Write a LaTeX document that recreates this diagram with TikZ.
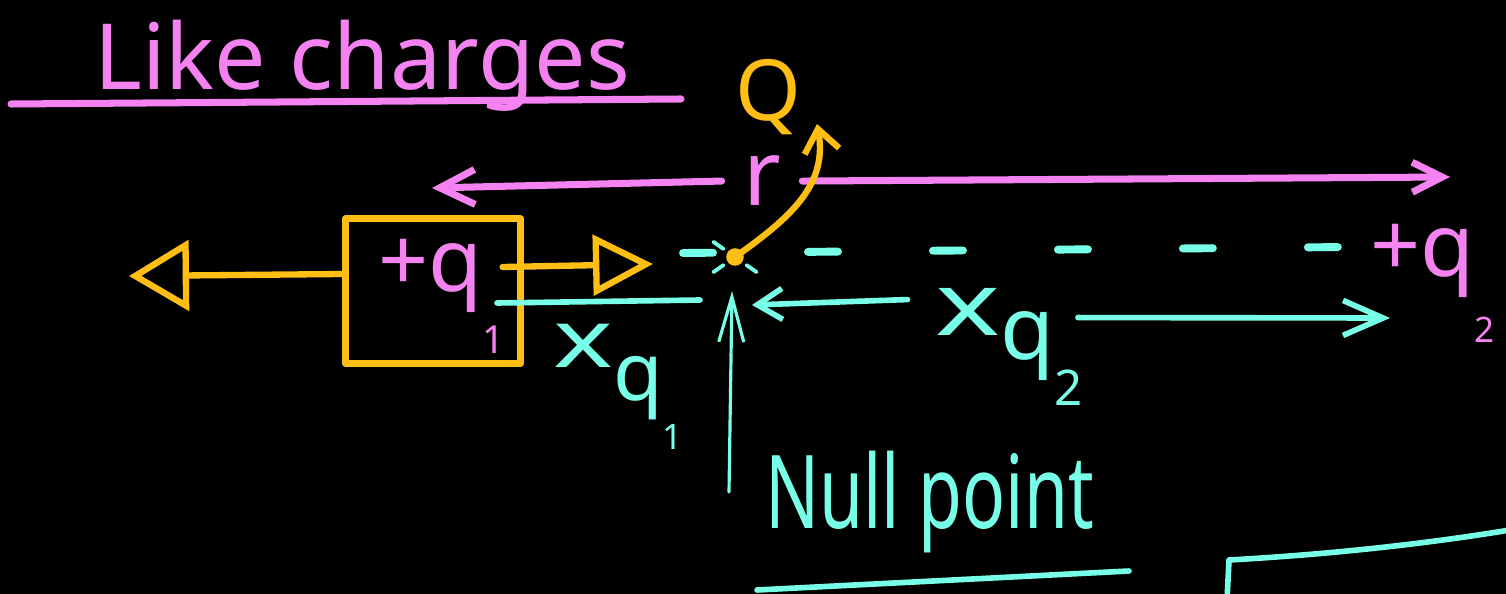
\documentclass[tikz,border=0pt]{standalone}
\usepackage{fontspec}
\setmainfont{Noto Sans}
\usetikzlibrary{arrows.meta}
\definecolor{inkpink}{RGB}{244,130,240}
\definecolor{inkorange}{RGB}{255,190,20}
\definecolor{inkcyan}{RGB}{120,255,232}
\newcommand{\inksize}[1]{\fontsize{#1pt}{#1pt}\selectfont}
\newcommand{\drop}[2]{\raisebox{-#1}{#2}}
\newcommand{\wide}[1]{\scalebox{1.4}[1]{#1}}

\begin{document}
\begin{tikzpicture}[x=0.02cm, y=-0.02cm, line cap=round, line join=round,
    every node/.style={inner sep=0pt},
    pinkpen/.style={draw=inkpink, line width=4pt},
    orangepen/.style={draw=inkorange, line width=3.6pt},
    cyanpen/.style={draw=inkcyan, line width=3.2pt}]
    % Доска
    \fill[black] (0,0) rectangle (1506,594);
    \useasboundingbox (0,0) rectangle (1506,594);

    % Заголовок
    \node[text=inkpink, font=\inksize{52}, anchor=base] (title) at (362,90) {Like charges};
    \draw[pinkpen] (11,104) -- (681,99);

    % Заряд q1 в рамке
    \node[draw=inkorange, line width=3.6pt, minimum width=3.5cm, minimum height=2.9cm] (box) at (433,291) {};
    \node[text=inkpink, font=\inksize{50}, anchor=base west] (q1) at (378,292) {+q\drop{35pt}{\inksize{22}1}};

    % Силы, действующие на q1
    \coordinate (pushL) at (129,276);
    \coordinate (pushR) at (653,264);
    \draw[orangepen, -{Triangle[open, length=1.2cm, width=1.4cm]}] ([yshift=0.34cm]box.west) -- (pushL);
    \draw[orangepen, -{Triangle[open, length=1.2cm, width=1.2cm]}] ([xshift=-0.42cm, yshift=0.48cm]box.east) -- (pushR);

    % Расстояние r
    \node[text=inkpink, font=\inksize{52}, inner xsep=12pt, anchor=base] (r) at (762,206) {r};
    \coordinate (rL) at (432,188);
    \coordinate (rR) at (1450,177);
    \draw[pinkpen, -{Straight Barb[length=0.7cm, width=0.7cm]}] (r.west) -- (rL);
    \draw[pinkpen, -{Straight Barb[length=0.6cm, width=0.6cm]}] (r.east) -- (rR);

    % Ось между зарядами
    \coordinate (axisL) at (683,253);
    \coordinate (axisR) at (1345,247);
    \draw[cyanpen, line width=4.5pt, dash pattern=on 0.6cm off 1.9cm] (axisL) -- (axisR);
    \node[text=inkpink, font=\inksize{50}, anchor=base west] (q2) at (1370,276) {+q\drop{38pt}{\inksize{20}2}};

    % Пробный заряд Q в нулевой точке
    \node[text=inkorange, font=\inksize{48}, anchor=base] (Q) at (768,121) {Q};
    \coordinate (N) at (735,257);
    \coordinate (Qtip) at (817,124);
    \foreach \a in {35,145,215,325}
        \draw[cyanpen, line width=2.2pt] ([shift={(\a:8pt)}]N) -- ([shift={(\a:15pt)}]N);
    \draw[orangepen, -{Straight Barb[length=0.45cm, width=0.7cm]}] (N) .. controls (790,218) and (828,185) .. (Qtip);
    \fill[inkorange] (N) circle[radius=5pt];

    % Расстояние x_q1
    \coordinate (xq1a) at (497,303);
    \coordinate (xq1b) at (700,300);
    \draw[cyanpen] (xq1a) -- (xq1b);
    \node[text=inkcyan, font=\inksize{46}, anchor=base west] (xq1) at (553,367) {\wide{x}\drop{19pt}{q\drop{28pt}{\inksize{20}1}}};

    % Расстояние x_q2
    \node[text=inkcyan, font=\inksize{50}, anchor=base west] (xq2) at (935,335) {\wide{x}\drop{14pt}{q\drop{26pt}{\inksize{28}2}}};
    \coordinate (xq2tipL) at (752,305);
    \coordinate (xq2tipR) at (1390,318);
    \draw[cyanpen, -{Straight Barb[length=0.5cm, width=0.62cm]}] ([xshift=-0.55cm, yshift=-0.24cm]xq2.north west) -- (xq2tipL);
    \draw[cyanpen, -{Straight Barb[length=0.8cm, width=0.7cm]}] ([xshift=-0.1cm, yshift=-0.6cm]xq2.north east) -- (xq2tipR);

    % Указатель на нулевую точку
    \node[text=inkcyan, font=\inksize{58}, xscale=0.7, anchor=base west] (null) at (765,528) {Null point};
    \coordinate (nullfoot) at (729,492);
    \coordinate (nulltip) at (732,291);
    \draw[cyanpen, line width=1.8pt, -{Straight Barb[length=0.9cm, width=0.5cm]}] (nullfoot) -- (nulltip);
    \draw[cyanpen] (757,590) -- (1129,571);
    \draw[cyanpen] (1227,600) -- (1229,560) .. controls (1300,556) and (1400,548) .. (1510,530);
\end{tikzpicture}
\end{document}
